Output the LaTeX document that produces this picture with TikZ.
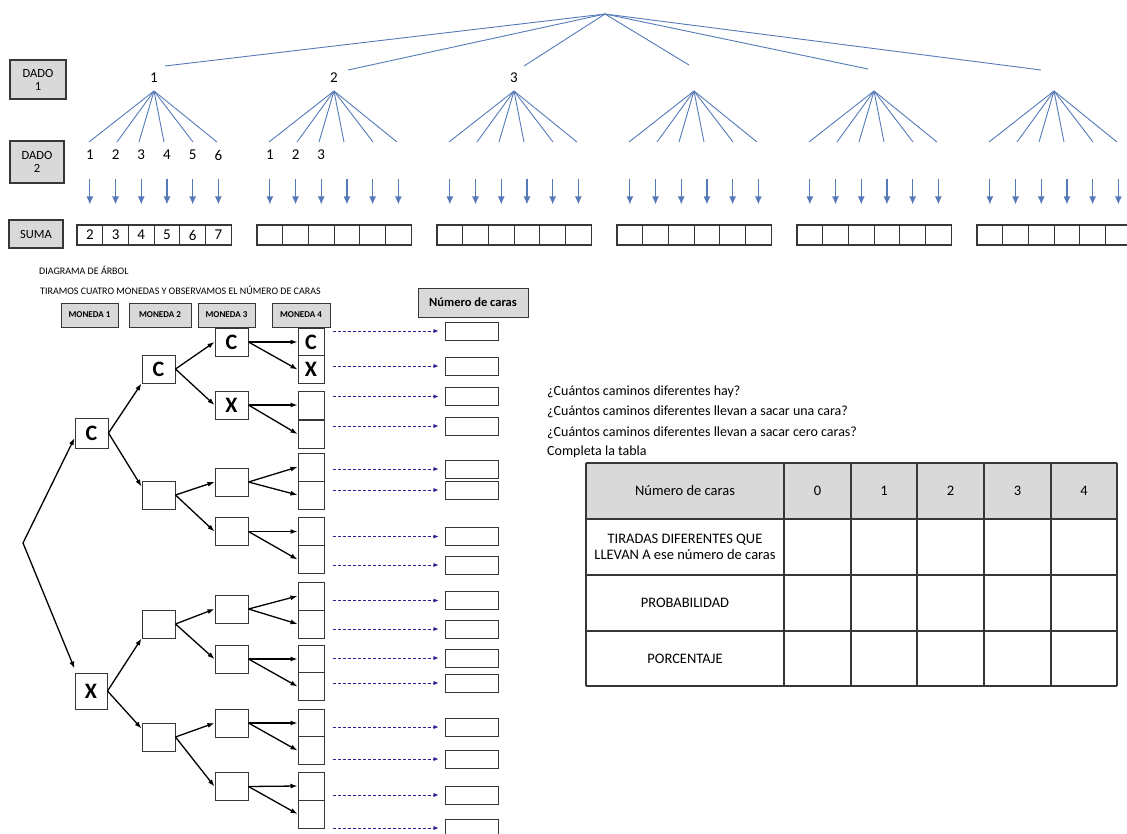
\documentclass[tikz,border=0pt]{standalone}
\usepackage{fontspec}
\setmainfont{Carlito}
\usetikzlibrary{calc}
\usetikzlibrary{positioning}
\usetikzlibrary{arrows.meta}
\definecolor{custom-blue}{RGB}{84, 122, 184}
\definecolor{custom-navy}{RGB}{45, 35, 150}
\definecolor{custom-gray}{RGB}{217, 217, 217}
\definecolor{custom-dark}{RGB}{55, 55, 55}

\begin{document}
\begin{tikzpicture}[x=1pt, y=-1pt,
    dado box/.style={draw=custom-dark, line width=1.6pt, fill=custom-gray, inner sep=0pt, align=center, font=\fontsize{12.5}{13}\selectfont},
    digit/.style={inner sep=0pt, font=\fontsize{15}{15}\selectfont},
    fan line/.style={custom-blue, line width=0.9pt},
    down arrow/.style={custom-blue, line width=1.2pt, -{Latex[length=8pt,width=7pt]}},
    sum cell/.style={draw=custom-dark, line width=1.1pt, minimum width=25.7pt, minimum height=20pt, inner sep=0pt, font=\fontsize{15}{15}\selectfont},
    coin box/.style={draw=custom-dark, line width=1pt, fill=white, minimum width=33pt, minimum height=28pt, inner sep=0pt, font=\fontsize{22}{22}\selectfont\bfseries},
    stack box/.style={coin box, minimum width=26pt},
    result box/.style={draw=custom-dark, line width=1pt, minimum width=53pt, minimum height=18pt, inner sep=0pt},
    head box/.style={draw=custom-dark, line width=1pt, fill=custom-gray, inner sep=0pt, font=\fontsize{9}{9}\selectfont\bfseries},
    tree arrow/.style={line width=1.3pt, -{Latex[length=7pt,width=5pt]}},
    dash arrow/.style={custom-navy, line width=0.9pt, dash pattern=on 3pt off 2pt, -{Latex[length=5pt,width=4.5pt]}},
    small text/.style={anchor=west, inner sep=0pt, font=\fontsize{10}{11}\selectfont},
    question/.style={anchor=west, inner sep=0pt, font=\fontsize{14}{15}\selectfont},
    cell text/.style={inner sep=0pt, align=center, font=\fontsize{14.5}{16}\selectfont}]
    \useasboundingbox (0,0) rectangle (1127,833);

    % dados
    \node[dado box, minimum width=56pt, minimum height=39pt] (dado1) at (38,79.5) {DADO\\1};
    \node[dado box, minimum width=54pt, minimum height=42pt] (dado2) at (37,162) {DADO\\2};
    \node[dado box, minimum width=54pt, minimum height=28pt] (suma) at (36,234) {SUMA};

    \coordinate (root) at (605,14);
    \foreach \ex/\ey [count=\k] in {165/66, 348/70, 524/66, 689/65, 868/69, 1041/70} {
        \coordinate (end\k) at (\ex,\ey);
        \draw[fan line] (root) -- (end\k);
    }
    \node[digit] (top1) at (154,78) {1};
    \node[digit] (top2) at (334,78) {2};
    \node[digit] (top3) at (514,78) {3};

    \foreach \k in {1,...,6} {
        \coordinate (apex\k) at ({154+180*(\k-1)},91);
        \foreach \dx [count=\j] in {-65,-37,-15,10,39,63}
            \draw[fan line] (apex\k) -- ++(\dx,51) coordinate (leaf\k-\j);
        \foreach \j in {1,...,6} {
            \pgfmathtruncatemacro{\s}{\j+1}
            \node[sum cell] (sum\k-\j) at ({77+180*(\k-1)+25.7*(\j-0.5)},235) {\ifnum\k=1 \s\fi};
            \draw[down arrow] ([yshift=45pt]sum\k-\j.north) -- ([yshift=20pt]sum\k-\j.north);
        }
    }
    \foreach \j in {1,...,6}
        \node[digit] (two1-\j) at ([yshift=80pt]sum1-\j.center) {\j};
    \foreach \j in {1,2,3}
        \node[digit] (two2-\j) at ([yshift=80pt]sum2-\j.center) {\j};

    % monedas
    \node[small text] (title) at (39,270) {DIAGRAMA DE ÁRBOL};
    \node[small text] (task) at (40,290) {TIRAMOS CUATRO MONEDAS Y OBSERVAMOS EL NÚMERO DE CARAS};
    \node[head box, minimum width=57pt, minimum height=24pt] (m1) at (89.5,315) {MONEDA 1};
    \node[head box, minimum width=62pt, minimum height=24pt] (m2) at (160,315) {MONEDA 2};
    \node[head box, minimum width=57pt, minimum height=24pt] (m3) at (226.5,315) {MONEDA 3};
    \node[head box, minimum width=58pt, minimum height=24pt] (m4) at (301,315) {MONEDA 4};
    \node[head box, minimum width=110pt, minimum height=29pt, font=\fontsize{12.5}{13}\selectfont\bfseries] (caras) at (473,302.5) {Número de caras};

    \coordinate (start) at (23,543);
    \node[coin box, minimum height=30pt] (a1) at (91.5,433) {C};
    \node[coin box, minimum height=36pt, minimum width=32pt] (a2) at (91,691) {X};
    \node[coin box] (b1) at (158.5,369) {C};
    \node[coin box] (b2) at (158.5,495) {};
    \node[coin box] (b3) at (158.5,624) {};
    \node[coin box] (b4) at (158.5,737) {};
    \foreach \y/\t [count=\i] in {342/C, 405/X, 482/{}, 531.5/{}, 609/{}, 659/{}, 723/{}, 786.5/{}}
        \node[coin box] (c\i) at (231.5,\y) {\t};
    \foreach \y/\t [count=\i] in {342/C, 369.5/X, 405/{}, 434/{}, 467/{}, 495/{}, 531.5/{}, 559.5/{}, 596/{}, 624/{}, 659/{}, 686.5/{}, 723/{}, 750.5/{}, 786/{}, 814/{}}
        \node[stack box] (d\i) at (311,\y) {\t};
    \foreach \y [count=\i] in {331, 366, 396.5, 426, 469, 490, 536.5, 565, 600.5, 629, 658, 683, 727, 759, 795, 828} {
        \node[result box] (r\i) at (471.5,\y) {};
        \draw[dash arrow] ([xshift=-112pt]r\i.west) -- ([xshift=-6pt]r\i.west);
    }

    \draw[tree arrow] (start) -- ([yshift=-5pt]a1.west);
    \draw[tree arrow] (start) -- ([yshift=4pt]a2.north west);
    \foreach \i in {1,2} {
        \pgfmathtruncatemacro{\u}{2*\i-1}
        \pgfmathtruncatemacro{\l}{2*\i}
        \draw[tree arrow] (a\i.east) -- (b\u.south west);
        \draw[tree arrow] (a\i.east) -- ([yshift=-6pt]b\l.north west);
    }
    \foreach \i in {1,...,4} {
        \pgfmathtruncatemacro{\u}{2*\i-1}
        \pgfmathtruncatemacro{\l}{2*\i}
        \draw[tree arrow] (b\i.east) -- (c\u.west);
        \draw[tree arrow] (b\i.east) -- (c\l.west);
    }
    \foreach \i in {1,...,8} {
        \pgfmathtruncatemacro{\u}{2*\i-1}
        \pgfmathtruncatemacro{\l}{2*\i}
        \draw[tree arrow] (c\i.east) -- (d\u.west);
        \draw[tree arrow] (c\i.east) -- (d\l.west);
    }

    % preguntas
    \node[question] (q1) at (547,392) {¿Cuántos caminos diferentes hay?};
    \node[question] (q2) at (547,412) {¿Cuántos caminos diferentes llevan a sacar una cara?};
    \node[question] (q3) at (547,433) {¿Cuántos caminos diferentes llevan a sacar cero caras?};
    \node[question] (q4) at (547,452) {Completa la tabla};

    % tabla
    \fill[custom-gray] (586,463) rectangle (1117,519);
    \foreach \x in {586,784,851,917,984,1051,1117}
        \draw[custom-dark, line width=1.4pt] (\x,463) -- (\x,686);
    \foreach \y in {463,519,575,631,686}
        \draw[custom-dark, line width=1.4pt] (586,\y) -- (1117,\y);
    \node[cell text] (h0) at (685,491) {Número de caras};
    \foreach \n/\x in {0/817.5, 1/884, 2/950.5, 3/1017.5, 4/1084}
        \node[cell text] (h\n x) at (\x,491) {\n};
    \node[cell text] (row1) at (685,547) {TIRADAS DIFERENTES QUE\\LLEVAN A ese número de caras};
    \node[cell text] (row2) at (685,603) {PROBABILIDAD};
    \node[cell text] (row3) at (685,658.5) {PORCENTAJE};
\end{tikzpicture}
\end{document}
